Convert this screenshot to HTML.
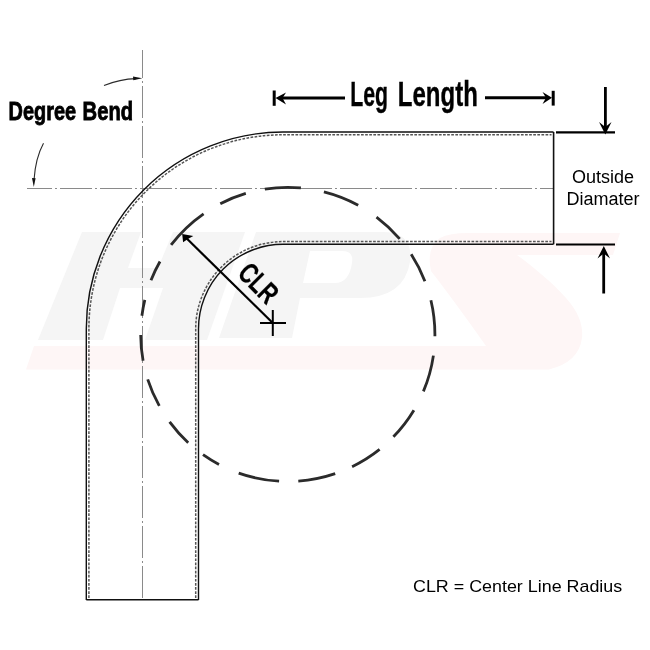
<!DOCTYPE html>
<html><head><meta charset="utf-8">
<style>
html,body{margin:0;padding:0;background:#fff;width:650px;height:650px;overflow:hidden}
svg{display:block;position:absolute;left:0;top:0;will-change:transform}
</style></head>
<body>
<svg width="650" height="650" viewBox="0 0 650 650">
<rect width="650" height="650" fill="#fff"/>
<!-- watermark -->
<g id="wm">
  <g fill="#f5f5f5" fill-rule="evenodd">
    <polygon points="82,232 141,232 128,268 158,268 173,232 245,232 207,340 145,340 163,288 120,288 103,340 38,340"/>
    <path d="M256,232 L382,232 Q414,232 410,262 Q404,298 360,298 L300,298 L292,338 L219,338 Z M310,251 L342,251 Q354,251 352,263 Q349,283 335,283 L303,283 Z"/>
  </g>
  <path fill="#fef6f6" d="M470,233 L620,233 L613,255 L517,255 C532,266 552,282 566,298 Q584,318 582,338 Q579,362 549,369.5 L26,369.5 L34,346 L486,346 Q455,302 431,271 Q426,248 440,238 Q450,232.5 472,233 Z"/>
</g>
<!-- center lines -->
<g stroke="#8a8a8a" stroke-width="1" fill="none" stroke-dasharray="32 3 2 3">
  <line x1="142.5" y1="50" x2="142.5" y2="600" stroke-dashoffset="4"/>
  <line x1="27" y1="188.5" x2="553" y2="188.5" stroke-dashoffset="7"/>
</g>
<!-- pipe walls -->
<g fill="none" stroke="#111">
  <path stroke-width="1.4" d="M86.3 600 L86.3 328.8 A196.7 196.7 0 0 1 283 132 L553.5 132"/>
  <path stroke-width="1.4" d="M198.5 600 L198.5 328.8 A84.5 84.5 0 0 1 283 244.3 L553.5 244.3"/>
  <path stroke-width="1.6" d="M553.6 132 L553.6 244.3"/>
  <path stroke-width="1.5" d="M86.3 599.7 L198.5 599.7"/>
</g>
<g fill="none" stroke="#555" stroke-width="1.5" stroke-dasharray="2.7 1.4">
  <path d="M88.9 598 L88.9 328.8 A194.1 194.1 0 0 1 283 134.8 L551.5 134.8"/>
  <path d="M195.7 598 L195.7 328.8 A87.3 87.3 0 0 1 283 241.6 L551.5 241.6"/>
</g>
<!-- dashed circle -->
<path fill="none" stroke="#2b2b2b" stroke-width="2.8" d="M430.9 300.3A147.1 147.1 0 0 1 434.9 336.2M433.4 355.6A147.1 147.1 0 0 1 423.4 391.4M413.9 410.2A147.1 147.1 0 0 1 393.4 436.8M379.6 449.4A147.1 147.1 0 0 1 352.1 466.7M335.2 473.7A147.1 147.1 0 0 1 298.3 481.1M279.1 481.2A147.1 147.1 0 0 1 238.7 473.1M219.0 464.4A147.1 147.1 0 0 1 203.0 454.6M188.2 442.7A147.1 147.1 0 0 1 169.6 421.9M159.3 405.9A147.1 147.1 0 0 1 147.7 379.4M143.1 360.7A147.1 147.1 0 0 1 140.7 334.9M141.9 315.7A147.1 147.1 0 0 1 144.8 299.8M151.0 280.2A147.1 147.1 0 0 1 160.0 261.5M171.1 244.9A147.1 147.1 0 0 1 203.6 213.8M220.3 203.7A147.1 147.1 0 0 1 245.8 193.4M264.8 189.1A147.1 147.1 0 0 1 300.9 187.9M323.9 191.8A147.1 147.1 0 0 1 358.2 205.2M376.5 217.1A147.1 147.1 0 0 1 399.7 238.9M411.2 254.3A147.1 147.1 0 0 1 424.9 281.2"/>
<!-- CLR arrow -->
<g stroke="#000" fill="#000">
  <line x1="272.8" y1="323" x2="185.5" y2="237.3" stroke-width="2.2"/>
  <path stroke="none" d="M182.2 234.1 L193.3 235.9 L188.3 238.8 L183.1 242.3 Z"/>
  <line x1="260" y1="323" x2="286" y2="323" stroke-width="2"/>
  <line x1="272.8" y1="310" x2="272.8" y2="336" stroke-width="2"/>
</g>
<!-- Leg length -->
<g stroke="#000" fill="#000">
  <line x1="274.2" y1="90.5" x2="274.2" y2="105.8" stroke-width="3"/>
  <line x1="280" y1="98" x2="345" y2="98" stroke-width="3"/>
  <path stroke="none" d="M275.5 98 L286 92.5 L282.5 98 L286 104.5 Z"/>
  <line x1="553.2" y1="90.8" x2="553.2" y2="105.6" stroke-width="3"/>
  <line x1="485" y1="97.8" x2="548" y2="97.8" stroke-width="3"/>
  <path stroke="none" d="M552 97.8 L542.5 92 L546 97.8 L542.5 104 Z"/>
</g>
<!-- OD -->
<g stroke="#000" fill="#000">
  <line x1="556" y1="132.4" x2="615" y2="132.4" stroke-width="2.2"/>
  <line x1="556" y1="244.5" x2="615" y2="244.5" stroke-width="2.2"/>
  <line x1="605.4" y1="87" x2="605.4" y2="128" stroke-width="2.8"/>
  <path stroke="none" d="M605.3 134.5 L599 122 L605.3 127 L611.5 122 Z"/>
  <line x1="603.7" y1="252" x2="603.7" y2="293.5" stroke-width="2.8"/>
  <path stroke="none" d="M603.8 246 L597.5 258.5 L603.8 253.5 L610 258.5 Z"/>
</g>
<!-- degree bend arcs -->
<g stroke="#2a2a2a" fill="none" stroke-width="1.1">
  <path d="M104 85.5 Q120 79 136 78.6"/>
  <path d="M43.5 143.3 Q35.5 158 34 180"/>
</g>
<g fill="#111">
  <path d="M142.3 78.3 L133 76.6 L133.3 80.2 Z"/>
  <path d="M33.8 187 L32 178 L35.6 178.2 Z"/>
</g>
<!-- texts -->
<g font-family="Liberation Sans" fill="#000">
  <text x="8.6" y="119.6" font-weight="bold" font-size="26" textLength="67.5" lengthAdjust="spacingAndGlyphs" stroke="#000" stroke-width="0.85">Degree</text>
  <text x="82.6" y="119.6" font-weight="bold" font-size="26" textLength="50.5" lengthAdjust="spacingAndGlyphs" stroke="#000" stroke-width="0.85">Bend</text>
  <text x="350.3" y="105.8" font-weight="bold" font-size="35.5" textLength="37.8" lengthAdjust="spacingAndGlyphs" stroke="#000" stroke-width="0.4">Leg</text>
  <text x="397.8" y="105.8" font-weight="bold" font-size="35.5" textLength="80" lengthAdjust="spacingAndGlyphs" stroke="#000" stroke-width="0.4">Length</text>
  <text x="603" y="182.5" font-size="18" text-anchor="middle">Outside</text>
  <text x="603" y="204.5" font-size="18" text-anchor="middle">Diamater</text>
  <text x="413" y="591.6" font-size="17" textLength="209.2" lengthAdjust="spacingAndGlyphs">CLR = Center Line Radius</text>
  <text transform="translate(272.8 323) rotate(45)" x="-60" y="-8.2" font-weight="bold" font-size="29" textLength="43.5" lengthAdjust="spacingAndGlyphs" stroke="#000" stroke-width="0.3">CLR</text>
</g>
</svg>
</body></html>
